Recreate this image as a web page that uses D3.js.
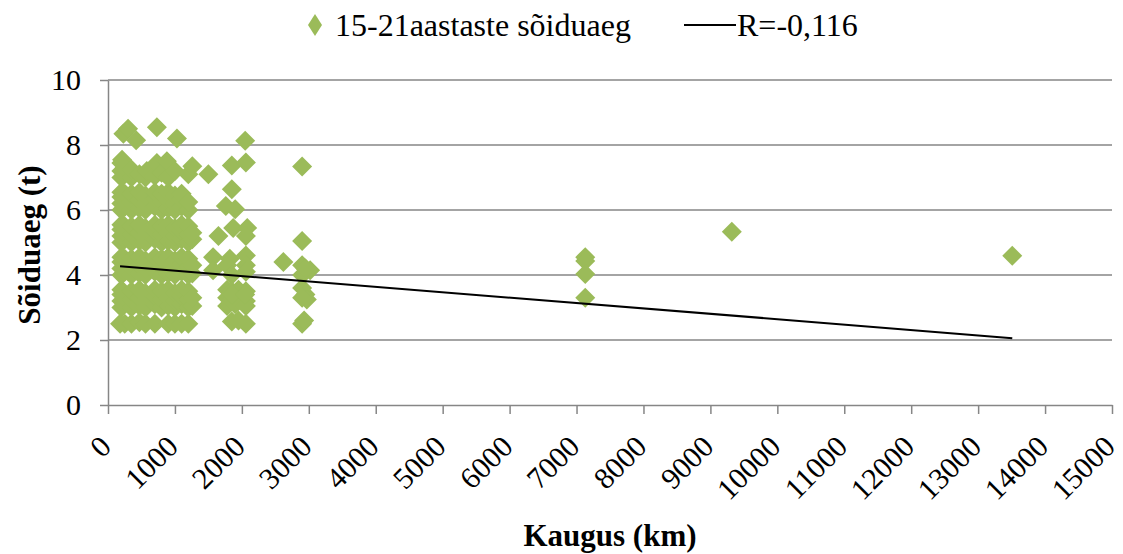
<!DOCTYPE html>
<html>
<head>
<meta charset="utf-8">
<script src="https://cdn.jsdelivr.net/npm/d3@7"></script>
<style>
  body { margin: 0; background: #fff; }
  svg text { font-family: "Liberation Serif", "Times New Roman", serif; fill: #000; }
</style>
</head>
<body>
<script>
// distance (km), travel time (t) - dense block of short trips
const shortTrips = [
  [180, 2.5], [200, 3.0], [200, 3.2], [200, 3.4], [200, 3.55], [200, 4.0], [200, 4.2], [200, 4.4], [200, 4.55],
  [200, 5.0], [200, 5.2], [200, 5.4], [200, 5.55], [200, 6.0], [200, 6.2], [200, 6.4], [200, 6.55], [200, 7.0],
  [200, 7.2], [200, 7.45], [210, 7.55],
  [250, 2.5], [250, 3.1], [250, 3.3], [250, 4.1], [250, 4.3], [250, 4.5], [250, 5.1], [250, 5.3], [250, 5.5],
  [250, 6.1], [250, 6.3], [250, 6.5], [250, 7.1], [250, 7.3],
  [350, 2.5], [350, 3.0], [350, 3.25], [350, 3.5], [350, 4.0], [350, 4.25], [350, 4.5], [350, 5.0], [350, 5.25],
  [350, 5.5], [350, 6.0], [350, 6.25], [350, 6.5], [350, 7.0], [350, 7.25],
  [470, 2.55], [470, 3.05], [470, 3.3], [470, 3.55], [470, 4.05], [470, 4.3], [470, 4.55], [470, 5.05], [470, 5.3],
  [470, 5.55], [470, 6.05], [470, 6.3], [470, 6.55], [470, 7.1],
  [560, 2.5], [560, 3.0], [560, 3.2], [560, 3.45], [560, 4.0], [560, 4.2], [560, 4.45], [560, 5.0], [560, 5.2],
  [560, 5.45], [560, 6.0], [560, 6.2], [560, 6.45], [560, 7.0], [580, 7.2],
  [700, 2.5], [700, 3.1], [700, 3.35], [700, 3.55], [700, 4.1], [700, 4.35], [700, 4.55], [700, 5.1], [700, 5.35],
  [700, 5.55], [700, 6.1], [700, 6.35], [700, 6.55], [700, 7.05], [730, 7.45],
  [800, 3.0], [800, 3.25], [800, 3.5], [800, 4.0], [800, 4.25], [800, 4.5], [800, 5.0], [800, 5.25], [800, 5.5],
  [800, 6.0], [800, 6.25], [800, 6.5], [800, 7.15],
  [900, 2.5], [900, 3.05], [900, 3.3], [900, 3.55], [900, 4.05], [900, 4.3], [900, 4.55], [900, 5.05], [900, 5.3],
  [900, 5.55], [900, 6.05], [900, 6.3], [900, 6.55], [900, 7.0], [880, 7.5],
  [1000, 2.5], [1000, 3.0], [1000, 3.2], [1000, 3.45], [1000, 4.0], [1000, 4.2], [1000, 4.45], [1000, 5.0],
  [1000, 5.2], [1000, 5.45], [1000, 6.0], [1000, 6.2], [1000, 6.45], [1000, 7.2],
  [1100, 2.5], [1100, 3.1], [1100, 3.35], [1100, 3.55], [1100, 4.1], [1100, 4.35], [1100, 4.55], [1100, 5.1],
  [1100, 5.35], [1100, 5.55], [1100, 6.1], [1100, 6.35], [1100, 6.5],
  [1200, 2.5], [1200, 3.0], [1200, 3.25], [1200, 3.5], [1200, 4.0], [1200, 4.25], [1200, 4.5], [1200, 5.0],
  [1200, 5.25], [1200, 5.5], [1200, 6.0], [1200, 6.25], [1200, 7.1],
  [1260, 3.05], [1260, 3.3], [1260, 4.05], [1260, 4.3], [1260, 5.1], [1260, 5.3], [1260, 7.35],
  [230, 8.35], [300, 8.5], [420, 8.15], [730, 8.55], [1030, 8.2]
];

// 1500 - 3000 km
const midTrips = [
  [1500, 7.1], [1570, 4.55], [1570, 4.15], [1850, 7.37], [2050, 8.13], [2060, 7.46], [1850, 6.64], [1760, 6.12],
  [1900, 6.02], [1870, 5.45], [2080, 5.45], [1650, 5.2], [2060, 5.2], [1820, 4.5], [2060, 4.6], [2060, 4.3],
  [1780, 4.3], [1850, 4.0], [2060, 4.1], [1780, 3.55], [1850, 3.5], [1950, 3.55], [2060, 3.5], [1780, 3.3],
  [1850, 3.25], [2000, 3.3], [2060, 3.2], [1780, 3.05], [1900, 3.1], [2060, 3.05], [1850, 3.4], [2050, 3.4],
  [1850, 2.57], [2060, 2.5], [1950, 2.6],
  [2620, 4.4], [2900, 7.34], [2900, 5.05], [2900, 4.3], [3020, 4.15], [2900, 4.0], [2950, 4.2], [2900, 3.6],
  [2950, 3.4], [2970, 3.25], [2900, 3.3], [2900, 2.5], [2930, 2.6]
];

// long trips
const longTrips = [
  [7130, 4.55], [7130, 4.43], [7130, 4.03], [7130, 3.3], [9320, 5.33], [13510, 4.59]
];

const xTicks = [0, 1000, 2000, 3000, 4000, 5000, 6000, 7000, 8000, 9000, 10000, 11000, 12000, 13000, 14000, 15000];
const yTicks = [0, 2, 4, 6, 8, 10];

// linear trend
const trendIntercept = 4.3;
const trendSlope = -0.000166;

const seriesName = "15-21aastaste sõiduaeg";
const trendName = "R=-0,116";
const xTitle = "Kaugus (km)";
const yTitle = "Sõiduaeg (t)";

const W = 1123, H = 554;
const margin = { top: 80, right: 11, bottom: 149, left: 108 };
const width = W - margin.left - margin.right;
const height = H - margin.top - margin.bottom;

const green = "#9bbb59";
const grey = "#868686";
const fontSize = "32px";

const allPoints = shortTrips.concat(midTrips, longTrips);

const x = d3.scaleLinear().domain([0, 15000]).range([0, width]);
const y = d3.scaleLinear().domain([0, 10]).range([height, 0]);

const svg = d3.select("body").append("svg")
  .attr("width", W)
  .attr("height", H);

const g = svg.append("g")
  .attr("transform", "translate(" + margin.left + "," + margin.top + ")");

// horizontal gridlines
g.append("g")
  .selectAll("line")
  .data(yTicks.filter(d => d > 0))
  .enter()
  .append("line")
  .attr("x1", 0)
  .attr("x2", width)
  .attr("y1", d => y(d))
  .attr("y2", d => y(d))
  .attr("stroke", grey)
  .attr("stroke-width", 1.5);

const yAxis = g.append("g")
  .call(d3.axisLeft(y).tickValues(yTicks).tickSize(8).tickPadding(19).tickSizeOuter(0));
yAxis.select(".domain").attr("stroke", grey).attr("stroke-width", 1.5);
yAxis.selectAll(".tick line").attr("stroke", grey).attr("stroke-width", 1.5);
yAxis.selectAll(".tick text")
  .style("font-size", "30px")
  .style("font-family", "'Liberation Serif', serif");

const xAxis = g.append("g")
  .attr("transform", "translate(0," + height + ")")
  .call(d3.axisBottom(x).tickValues(xTicks).tickFormat(d3.format("d")).tickSize(9).tickSizeOuter(0));
xAxis.select(".domain").attr("stroke", grey).attr("stroke-width", 1.5);
xAxis.selectAll(".tick line").attr("stroke", grey).attr("stroke-width", 1.5);
xAxis.selectAll(".tick text")
  .attr("text-anchor", "end")
  .attr("transform", "translate(-3,36) rotate(-45)")
  .attr("x", 0)
  .attr("y", 0)
  .attr("dy", "0.35em")
  .style("font-size", "30px")
  .style("font-family", "'Liberation Serif', serif");

const diamond = "M0,-10L10,0L0,10L-10,0Z";

g.append("g")
  .selectAll("path")
  .data(allPoints)
  .enter()
  .append("path")
  .attr("d", diamond)
  .attr("transform", d => "translate(" + x(d[0]) + "," + y(d[1]) + ")")
  .attr("fill", green);

// trend line from min to max distance
const xExtent = d3.extent(allPoints, d => d[0]);
g.append("line")
  .attr("x1", x(xExtent[0]))
  .attr("x2", x(xExtent[1]))
  .attr("y1", y(trendIntercept + trendSlope * xExtent[0]))
  .attr("y2", y(trendIntercept + trendSlope * xExtent[1]))
  .attr("stroke", "#000")
  .attr("stroke-width", 2);

// axis titles
svg.append("text")
  .attr("x", 610)
  .attr("y", 546)
  .attr("text-anchor", "middle")
  .style("font-size", "31px")
  .style("font-weight", "bold")
  .text(xTitle);

svg.append("text")
  .attr("transform", "translate(40,245) rotate(-90)")
  .attr("text-anchor", "middle")
  .style("font-size", "31px")
  .style("font-weight", "bold")
  .text(yTitle);

// legend
const legend = svg.append("g");
legend.append("path")
  .attr("d", "M0,-11L7,0L0,11L-7,0Z")
  .attr("transform", "translate(315,25)")
  .attr("fill", green);
legend.append("text")
  .attr("x", 335)
  .attr("y", 36)
  .style("font-size", fontSize)
  .text(seriesName);
legend.append("line")
  .attr("x1", 684)
  .attr("x2", 736)
  .attr("y1", 25)
  .attr("y2", 25)
  .attr("stroke", "#000")
  .attr("stroke-width", 2);
legend.append("text")
  .attr("x", 737)
  .attr("y", 36)
  .style("font-size", fontSize)
  .text(trendName);
</script>
</body>
</html>
